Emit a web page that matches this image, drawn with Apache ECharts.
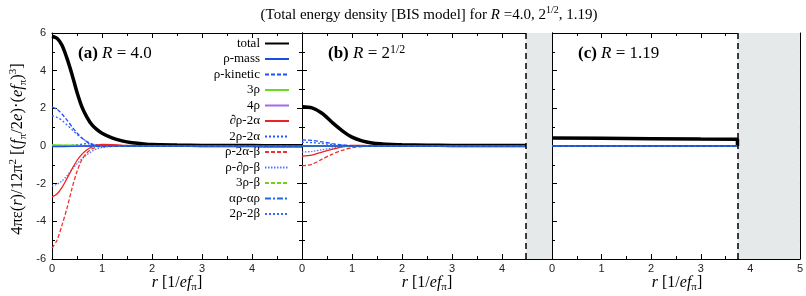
<!DOCTYPE html>
<html><head><meta charset="utf-8">
<script src="https://cdn.jsdelivr.net/npm/echarts@6/dist/echarts.min.js"></script>
<style>html,body{margin:0;padding:0;background:#fff}#c{width:806px;height:296px}</style>
</head><body><div id="c"></div>
<script>
// ---------- data ----------
const seriesNames = ['total','ρ-mass','ρ-kinetic','3ρ','4ρ','∂ρ-2α','2ρ-2α','ρ-2α-β','ρ-∂ρ-β','3ρ-β','αρ-αρ','2ρ-2β'];
const xMin = 0, xMax = 5, xStep = 1;
const yMin = -6, yMax = 6, yStep = 2;
const panelLabels = ['(a)', '(b)', '(c)'];
const walls = [null, 4.48, 3.74];

// panel (a) R = 4.0
const rA  = [0,0.1,0.2,0.3,0.4,0.5,0.6,0.7,0.8,0.9,1.0,1.2,1.4,1.6,1.8,2.0,2.5,3.0,3.5,4.0,4.5,5.0];
const totalA        = [5.83,5.72,5.35,4.65,3.8,2.85,2.06,1.52,1.12,0.87,0.68,0.43,0.27,0.17,0.12,0.08,0.05,0.03,0.02,0.02,0.01,0.01];
const kineticA      = [2.07,1.95,1.7,1.37,1.02,0.7,0.43,0.22,0.07,-0.01,-0.03,-0.02,-0.01,0,0,0,0,0,0,0,0,0];
const twoRho2BetaA  = [1.6,1.52,1.36,1.12,0.87,0.62,0.41,0.24,0.11,0.04,0.01,0,0,0,0,0,0,0,0,0,0,0];
const dRho2AlphaA   = [-2.7,-2.55,-2.2,-1.72,-1.22,-0.77,-0.43,-0.2,-0.05,0.04,0.08,0.07,0.04,0.02,0.01,0,0,0,0,0,0,0];
const rhoDRhoBetaA  = [-2.12,-2.03,-1.85,-1.58,-1.25,-0.95,-0.68,-0.46,-0.28,-0.15,-0.08,-0.03,-0.01,0,0,0,0,0,0,0,0,0];
const rho2AlphaBetaA= [-5.42,-5.0,-4.2,-3.3,-2.25,-1.35,-0.72,-0.36,-0.15,-0.05,0.0,0.02,0.01,0,0,0,0,0,0,0,0,0];
const rAz = [0,0.4,0.7,1.0,1.5,2.0,5.0];
const massA         = [-0.03,-0.02,0.0,0.01,0,0,0];
const threeRhoA     = [0.06,0.04,0.02,0.01,0,0,0];
const fourRhoA      = [0,0,0,0,0,0,0];
const twoRho2AlphaA = [0.0,0.03,0.12,0.03,0,0,0];
const threeRhoBetaA = [0.04,0.03,0.01,0,0,0,0];
const alphaRhoA     = [0,0,0,0,0,0,0];

// panel (b) R = 2^(1/2)
const rB  = [0,0.2,0.4,0.6,0.8,1.0,1.2,1.4,1.6,1.8,2.0,2.5,3.0,3.5,4.0,4.48];
const totalB        = [2.08,2.02,1.74,1.26,0.82,0.47,0.27,0.16,0.11,0.08,0.06,0.04,0.03,0.02,0.02,0.02];
const rho2AlphaBetaB= [-1.06,-0.97,-0.7,-0.44,-0.23,-0.09,-0.03,-0.01,0,0,0,0,0,0,0,0];
const dRho2AlphaB   = [-0.53,-0.48,-0.32,-0.18,-0.05,0.03,0.03,0.02,0.01,0,0,0,0,0,0,0];
const rhoDRhoBetaB  = [-0.32,-0.29,-0.2,-0.11,-0.05,-0.02,-0.01,0,0,0,0,0,0,0,0,0];
const kineticB      = [0.32,0.3,0.22,0.13,0.06,0.02,0,0,0,0,0,0,0,0,0,0];
const twoRho2BetaB  = [0.2,0.18,0.13,0.08,0.04,0.01,0,0,0,0,0,0,0,0,0,0];
const rBz = [0,1,2,4.48];
const zeroB = [0,0,0,0];

// panel (c) R = 1.19
const rC  = [0,1,2,3,3.74,3.74];
const totalC = [0.42,0.41,0.39,0.37,0.36,0];
const rCz = [0,3.74];
const zeroC = [0,0];

// ---------- styles ----------
const styles = {
  'total':   {color:'#000000', width:3.5, type:'solid'},
  'ρ-mass':  {color:'#1a4de0', width:1.3, type:'solid'},
  'ρ-kinetic':{color:'#1f50ff', width:1.3, type:[4,2]},
  '3ρ':      {color:'#66dd22', width:1.3, type:'solid'},
  '4ρ':      {color:'#aa66ee', width:1.3, type:'solid'},
  '∂ρ-2α':   {color:'#ee2222', width:1.3, type:'solid'},
  '2ρ-2α':   {color:'#2255ff', width:1.3, type:[2,2]},
  'ρ-2α-β':  {color:'#ee3333', width:1.3, type:[4,2]},
  'ρ-∂ρ-β':  {color:'#5577ff', width:1.3, type:[1.5,1.5]},
  '3ρ-β':    {color:'#77cc22', width:1.3, type:[4,2]},
  'αρ-αρ':   {color:'#2266ee', width:1.3, type:[6,2,2,2]},
  '2ρ-2β':   {color:'#3366ff', width:1.3, type:[2,2]}
};

const panels = [
  {'total':[rA,totalA],'ρ-mass':[rAz,massA],'ρ-kinetic':[rA,kineticA],'3ρ':[rAz,threeRhoA],'4ρ':[rAz,fourRhoA],
   '∂ρ-2α':[rA,dRho2AlphaA],'2ρ-2α':[rAz,twoRho2AlphaA],'ρ-2α-β':[rA,rho2AlphaBetaA],'ρ-∂ρ-β':[rA,rhoDRhoBetaA],
   '3ρ-β':[rAz,threeRhoBetaA],'αρ-αρ':[rAz,alphaRhoA],'2ρ-2β':[rA,twoRho2BetaA]},
  {'total':[rB,totalB],'ρ-mass':[rBz,zeroB],'ρ-kinetic':[rB,kineticB],'3ρ':[rBz,zeroB],'4ρ':[rBz,zeroB],
   '∂ρ-2α':[rB,dRho2AlphaB],'2ρ-2α':[rBz,zeroB],'ρ-2α-β':[rB,rho2AlphaBetaB],'ρ-∂ρ-β':[rB,rhoDRhoBetaB],
   '3ρ-β':[rBz,zeroB],'αρ-αρ':[rBz,zeroB],'2ρ-2β':[rB,twoRho2BetaB]},
  {'total':[rC,totalC],'ρ-mass':[rCz,zeroC],'ρ-kinetic':[rCz,zeroC],'3ρ':[rCz,zeroC],'4ρ':[rCz,zeroC],
   '∂ρ-2α':[rCz,zeroC],'2ρ-2α':[rCz,zeroC],'ρ-2α-β':[rCz,zeroC],'ρ-∂ρ-β':[rCz,zeroC],
   '3ρ-β':[rCz,zeroC],'αρ-αρ':[rCz,zeroC],'2ρ-2β':[rCz,zeroC]}
];

// ---------- build ----------
const SERIF = '"Liberation Serif", "Times New Roman", serif';
const SANS = '"Liberation Sans", Arial, sans-serif';
const grids = [], xAxes = [], yAxes = [], series = [];
const gl = [52, 302, 552];
for (let p = 0; p < 3; p++) {
  grids.push({left: gl[p], top: 33, width: 250, height: 226});
  const baseX = {
    gridIndex: p, type: 'value', min: xMin, max: xMax, interval: xStep,
    axisLine: {show: true, onZero: false, lineStyle: {color: '#000', width: 1}},
    axisTick: {show: true, inside: true, length: 5, lineStyle: {color: '#000'}},
    minorTick: {show: true, splitNumber: 2, length: 3, lineStyle: {color: '#000'}},
    splitLine: {show: false}
  };
  xAxes.push(Object.assign({}, baseX, {position: 'bottom',
    axisLabel: {show: true, fontFamily: SANS, fontSize: 11, color: '#222', margin: 4, showMaxLabel: p === 2}}));
  xAxes.push(Object.assign({}, baseX, {position: 'top', axisLabel: {show: false}}));
  const baseY = {
    gridIndex: p, type: 'value', min: yMin, max: yMax, interval: yStep,
    axisLine: {show: true, onZero: false, lineStyle: {color: '#000', width: 1}},
    axisTick: {show: true, inside: true, length: 5, lineStyle: {color: '#000'}},
    minorTick: {show: true, splitNumber: 2, length: 3, lineStyle: {color: '#000'}},
    splitLine: {show: false}
  };
  yAxes.push(Object.assign({}, baseY, {position: 'left',
    axisLabel: {show: p === 0, fontFamily: SANS, fontSize: 11, color: '#222', margin: 6}}));
  yAxes.push(Object.assign({}, baseY, {position: 'right', axisLabel: {show: false}}));

  seriesNames.slice().reverse().forEach(function (name) {
    const pair = panels[p][name];
    const st = styles[name];
    const data = pair[0].map(function (x, i) { return [x, pair[1][i]]; });
    const s = {
      name: name, type: 'line', xAxisIndex: 2 * p, yAxisIndex: 2 * p,
      data: data, symbol: 'none', showSymbol: false,
      smooth: p === 2 ? false : 0.3,
      lineStyle: {color: st.color, width: st.width, type: st.type},
      itemStyle: {color: st.color},
      z: name === 'total' ? 3 : 4
    };
    if (name === 'total' && walls[p] !== null) {
      s.markArea = {silent: true, itemStyle: {color: '#e5e9e9'},
        data: [[{xAxis: walls[p]}, {xAxis: xMax}]]};
      s.markLine = {silent: true, symbol: ['none', 'none'], label: {show: false},
        lineStyle: {color: '#000', type: [6, 4], width: 1.5},
        data: [{xAxis: walls[p]}]};
    }
    series.push(s);
  });
}

const richCommon = function (fs) {
  return {
    n: {fontFamily: SERIF, fontSize: fs, lineHeight: fs + 4, color: '#000'},
    i: {fontFamily: SERIF, fontSize: fs, fontStyle: 'italic', lineHeight: fs + 4, color: '#000'},
    b: {fontFamily: SERIF, fontSize: fs, fontWeight: 'bold', lineHeight: fs + 4, color: '#000'},
    sup: {fontFamily: SERIF, fontSize: Math.round(fs * 0.68), lineHeight: Math.round(fs * 0.68), verticalAlign: 'top', color: '#000'},
    sub: {fontFamily: SERIF, fontSize: Math.round(fs * 0.68), lineHeight: Math.round(fs * 0.68), verticalAlign: 'bottom', color: '#000'}
  };
};
function txt(x, y, text, fs, align, rot) {
  return {type: 'text', x: x, y: y, rotation: rot || 0, silent: true,
    style: {text: text, align: align || 'center', verticalAlign: 'middle', rich: richCommon(fs),
      font: fs + 'px ' + SERIF, fill: '#000'}};
}
const panelTexts = [
  '{b|' + panelLabels[0] + '}{i| R}{n| = 4.0}',
  '{b|' + panelLabels[1] + '}{i| R}{n| = 2}{sup|1/2}',
  '{b|' + panelLabels[2] + '}{i| R}{n| = 1.19}'
];
const graphics = [
  txt(429, 15, '{n|(Total energy density [BIS model] for }{i|R}{n| =4.0, 2}{sup|1/2}{n|, 1.19)}', 15, 'center'),
  txt(18, 149, '{n|4πε(}{i|r}{n|)/12π}{sup|2}{n| [(}{i|f}{sub|π}{n|/2}{i|e}{n|)·(}{i|ef}{sub|π}{n|)}{sup|3}{n|]}', 16.5, 'center', Math.PI / 2)
];
for (let p = 0; p < 3; p++) {
  graphics.push(txt(gl[p] + 26, 54, panelTexts[p], 17, 'left'));
  graphics.push(txt(gl[p] + 125, 283, '{i|r}{n| [1/}{i|ef}{sub|π}{n|]}', 16, 'center'));
}

const chart = echarts.init(document.getElementById('c'), null, {renderer: 'canvas'});
chart.setOption({
  animation: false,
  backgroundColor: '#fff',
  grid: grids,
  xAxis: xAxes,
  yAxis: yAxes,
  legend: {
    data: seriesNames, orient: 'vertical', align: 'right', right: 516, top: 37,
    padding: 0, itemWidth: 24, itemHeight: 10, itemGap: 2.5,
    itemStyle: {color: 'rgba(0,0,0,0)', borderColor: 'rgba(0,0,0,0)', borderWidth: 0, opacity: 0},
    textStyle: {fontFamily: SERIF, fontSize: 13, color: '#000'}
  },
  graphic: graphics,
  series: series
});
</script>
</body></html>
